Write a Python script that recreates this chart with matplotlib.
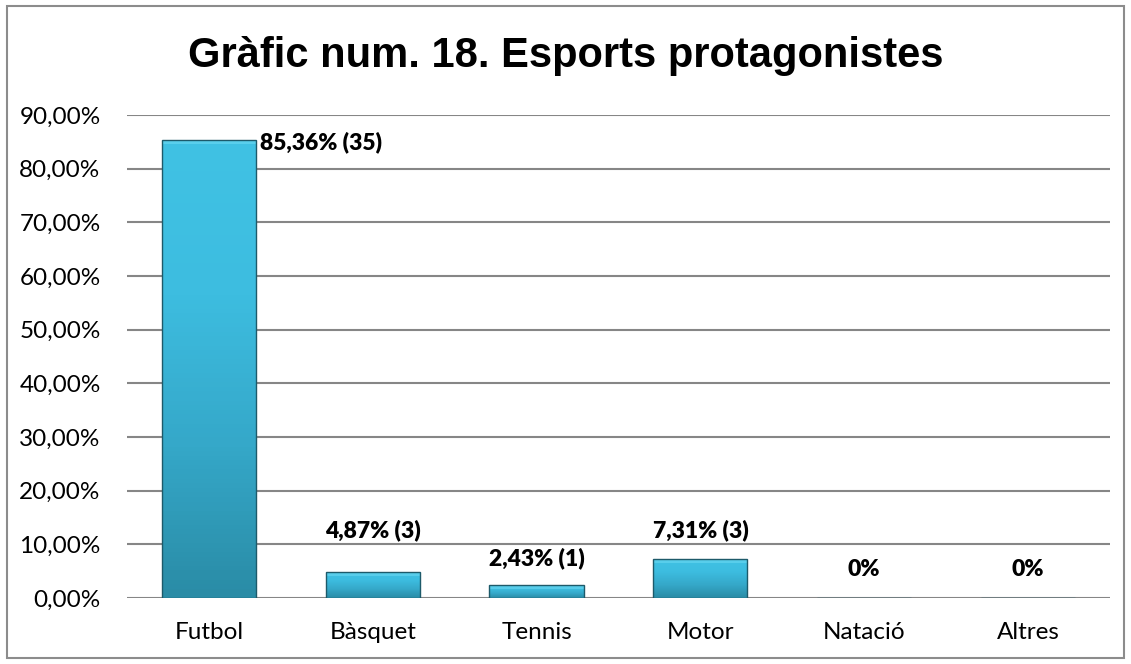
import matplotlib.pyplot as plt
import numpy as np
from matplotlib.patches import Rectangle
from matplotlib.colors import LinearSegmentedColormap

categories = ["Futbol", "Bàsquet", "Tennis", "Motor", "Natació", "Altres"]
percents = [85.36, 4.87, 2.43, 7.31, 0, 0]
labels = ["85,36% (35)", "4,87% (3)", "2,43% (1)", "7,31% (3)", "0%", "0%"]
yticks = [0, 10, 20, 30, 40, 50, 60, 70, 80, 90]

fig = plt.figure(figsize=(11.31, 6.64), dpi=100)
ax = fig.add_axes([0.1123, 0.0994, 0.8691, 0.7274])

# figure border
fig.patches.append(Rectangle((0.006, 0.009), 0.988, 0.982, transform=fig.transFigure,
                             fill=False, edgecolor="#8c8c8c", linewidth=1.5))

x = np.arange(len(categories))
bars = ax.bar(x, percents, width=0.575, color="none", edgecolor="#1d5a6a",
              linewidth=1.0, zorder=3)

cmap = LinearSegmentedColormap.from_list("blu", ["#2a8ca6", "#35a8c9", "#3dbde0", "#40c2e4"])
grad = np.linspace(0, 1, 100).reshape(-1, 1)
for b in bars:
    if b.get_height() <= 0:
        continue
    x0, w, h = b.get_x(), b.get_width(), b.get_height()
    im = ax.imshow(grad, extent=(x0, x0 + w, 0, h), origin="lower", cmap=cmap,
                   aspect="auto", zorder=2)
    im.set_clip_path(b)
    # bevel highlight at top
    hh = min(h * 0.3, 0.8)
    ax.add_patch(Rectangle((x0, h - hh), w, hh,
                           facecolor="#6ad8f2", edgecolor="none", alpha=0.6, zorder=2.5))

ax.set_xlim(-0.5, len(categories) - 0.5)
ax.set_ylim(0, 90)
ax.set_yticks(yticks)
ax.set_yticklabels([f"{v:.2f}".replace(".", ",") + "%" for v in yticks])
ax.set_xticks(x)
ax.set_xticklabels(categories)
ax.tick_params(length=0, labelsize=17.5, colors="#000000")
ax.tick_params(axis="y", pad=19)
ax.tick_params(axis="x", pad=17)
for t in ax.get_xticklabels() + ax.get_yticklabels():
    t.set_fontfamily("Lato")

ax.yaxis.grid(True, color="#868686", linewidth=1.5, zorder=0)
ax.set_axisbelow(True)
for s in ax.spines.values():
    s.set_visible(False)

# data labels
offsets = [0, 42, 27, 29, 28, 28]
for i, (b, lab) in enumerate(zip(bars, labels)):
    top = b.get_height()
    if i == 0:
        ax.annotate(lab, (b.get_x() + b.get_width(), top), xytext=(3, -2),
                    textcoords="offset points", ha="left", va="center",
                    fontsize=16.5, fontweight="heavy", family="Lato")
    else:
        ax.annotate(lab, (b.get_x() + b.get_width() / 2, top), xytext=(0, offsets[i] * 0.72),
                    textcoords="offset points", ha="center", va="center",
                    fontsize=16.5, fontweight="heavy", family="Lato")

fig.text(0.5, 0.916, "Gràfic num. 18. Esports protagonistes", ha="center", va="center",
         fontsize=30, fontweight="bold", family="Liberation Sans")

fig.savefig("out.png", dpi=100)
